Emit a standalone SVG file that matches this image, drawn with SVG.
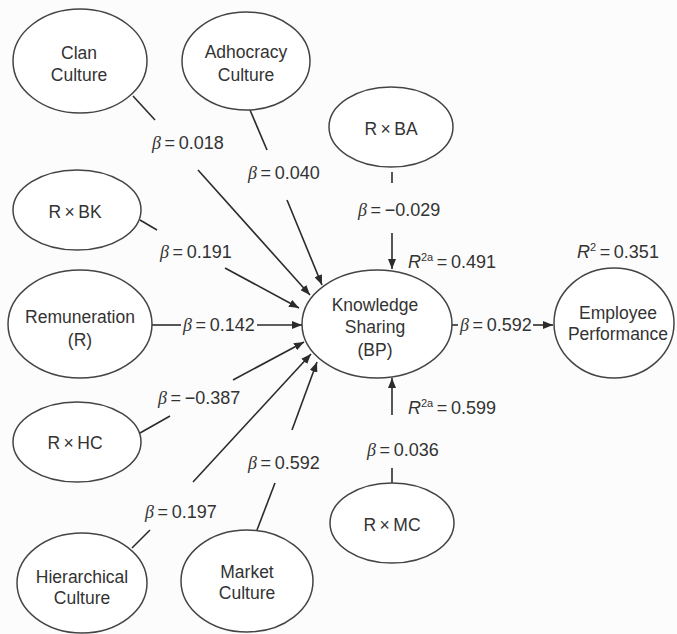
<svg xmlns="http://www.w3.org/2000/svg" width="677" height="634" viewBox="0 0 677 634">
<defs>
<marker id="ah" markerUnits="userSpaceOnUse" markerWidth="10" markerHeight="8" refX="10" refY="4" orient="auto">
<path d="M0,0 L10,4 L0,8 z" fill="#2b2b2b"/>
</marker>
<style>
.n ellipse{fill:#fff;stroke:#444;stroke-width:1.5}
text{font-family:"Liberation Sans",Arial,sans-serif;font-size:17.5px;fill:#333}
.c{text-anchor:middle}
#labels text{font-size:18px}
.b{font-family:"Liberation Serif","Times New Roman",serif;font-style:italic}
.r{font-style:italic}
#labels .s{font-size:11px}
.e line{stroke:#2b2b2b;stroke-width:1.6;fill:none}
</style>
</defs>
<rect width="677" height="634" fill="#fcfcfc"/>
<g id="edges" class="e">
<line x1="133" y1="96" x2="155" y2="120"/>
<line x1="198" y1="170" x2="310" y2="295" marker-end="url(#ah)"/>
<line x1="250" y1="110" x2="267" y2="150"/>
<line x1="287" y1="200" x2="322" y2="285" marker-end="url(#ah)"/>
<line x1="392" y1="172" x2="392" y2="183"/>
<line x1="392" y1="233" x2="392" y2="269" marker-end="url(#ah)"/>
<line x1="140" y1="220" x2="157" y2="230"/>
<line x1="225" y1="268" x2="299" y2="308" marker-end="url(#ah)"/>
<line x1="152" y1="325" x2="181" y2="325"/>
<line x1="257" y1="325" x2="302" y2="325" marker-end="url(#ah)"/>
<line x1="140" y1="433" x2="170" y2="416"/>
<line x1="233" y1="380" x2="304" y2="342" marker-end="url(#ah)"/>
<line x1="132" y1="548" x2="150" y2="530"/>
<line x1="193" y1="482" x2="311" y2="354" marker-end="url(#ah)"/>
<line x1="257" y1="530" x2="275" y2="483"/>
<line x1="292" y1="430" x2="317" y2="362" marker-end="url(#ah)"/>
<line x1="392" y1="483" x2="392" y2="468"/>
<line x1="392" y1="415" x2="392" y2="378" marker-end="url(#ah)"/>
<line x1="452" y1="325" x2="458" y2="325"/>
<line x1="533" y1="325" x2="553" y2="325" marker-end="url(#ah)"/>
</g>
<g id="labels">
<text x="152" y="149"><tspan class="b">β</tspan>&#8201;=&#8201;0.018</text>
<text x="248" y="179"><tspan class="b">β</tspan>&#8201;=&#8201;0.040</text>
<text x="358" y="216"><tspan class="b">β</tspan>&#8201;=&#8201;−0.029</text>
<text x="160" y="258"><tspan class="b">β</tspan>&#8201;=&#8201;0.191</text>
<text x="183" y="331"><tspan class="b">β</tspan>&#8201;=&#8201;0.142</text>
<text x="158" y="404"><tspan class="b">β</tspan>&#8201;=&#8201;−0.387</text>
<text x="248" y="469"><tspan class="b">β</tspan>&#8201;=&#8201;0.592</text>
<text x="145" y="518"><tspan class="b">β</tspan>&#8201;=&#8201;0.197</text>
<text x="367" y="456"><tspan class="b">β</tspan>&#8201;=&#8201;0.036</text>
<text x="460" y="331"><tspan class="b">β</tspan>&#8201;=&#8201;0.592</text>
<text x="408" y="268"><tspan class="r">R</tspan><tspan class="s" dy="-7">2a</tspan><tspan dy="7">&#8201;=&#8201;0.491</tspan></text>
<text x="408" y="414"><tspan class="r">R</tspan><tspan class="s" dy="-7">2a</tspan><tspan dy="7">&#8201;=&#8201;0.599</tspan></text>
<text x="577" y="258"><tspan class="r">R</tspan><tspan class="s" dy="-7">2</tspan><tspan dy="7">&#8201;=&#8201;0.351</tspan></text>
</g>
<g id="clan" class="n"><ellipse cx="80" cy="61" rx="67" ry="52"/><text class="c" x="79" y="59">Clan</text><text class="c" x="79" y="81">Culture</text></g>
<g id="adhocracy" class="n"><ellipse cx="246" cy="61" rx="64" ry="49"/><text class="c" x="246" y="58">Adhocracy</text><text class="c" x="246" y="81">Culture</text></g>
<g id="rxba" class="n"><ellipse cx="391" cy="127" rx="62" ry="40"/><text class="c" x="391" y="135">R&#8201;×&#8201;BA</text></g>
<g id="rxbk" class="n"><ellipse cx="77" cy="210" rx="64" ry="40"/><text class="c" x="75" y="218">R&#8201;×&#8201;BK</text></g>
<g id="remuneration" class="n"><ellipse cx="80" cy="324" rx="72" ry="54"/><text class="c" x="80" y="323">Remuneration</text><text class="c" x="80" y="346">(R)</text></g>
<g id="rxhc" class="n"><ellipse cx="77" cy="442" rx="64" ry="40"/><text class="c" x="75" y="449">R&#8201;×&#8201;HC</text></g>
<g id="hierarchical" class="n"><ellipse cx="82" cy="583" rx="65" ry="50"/><text class="c" x="82" y="583">Hierarchical</text><text class="c" x="82" y="604">Culture</text></g>
<g id="market" class="n"><ellipse cx="247" cy="581" rx="66" ry="51"/><text class="c" x="247" y="578">Market</text><text class="c" x="247" y="599">Culture</text></g>
<g id="knowledge" class="n"><ellipse cx="377" cy="324" rx="75" ry="54"/><text class="c" x="375" y="311">Knowledge</text><text class="c" x="375" y="333">Sharing</text><text class="c" x="375" y="356">(BP)</text></g>
<g id="rxmc" class="n"><ellipse cx="392" cy="523" rx="62" ry="40"/><text class="c" x="392" y="531">R&#8201;×&#8201;MC</text></g>
<g id="employee" class="n"><ellipse cx="614" cy="323" rx="60" ry="55"/><text class="c" x="618" y="319">Employee</text><text class="c" x="618" y="340">Performance</text></g>
</svg>
